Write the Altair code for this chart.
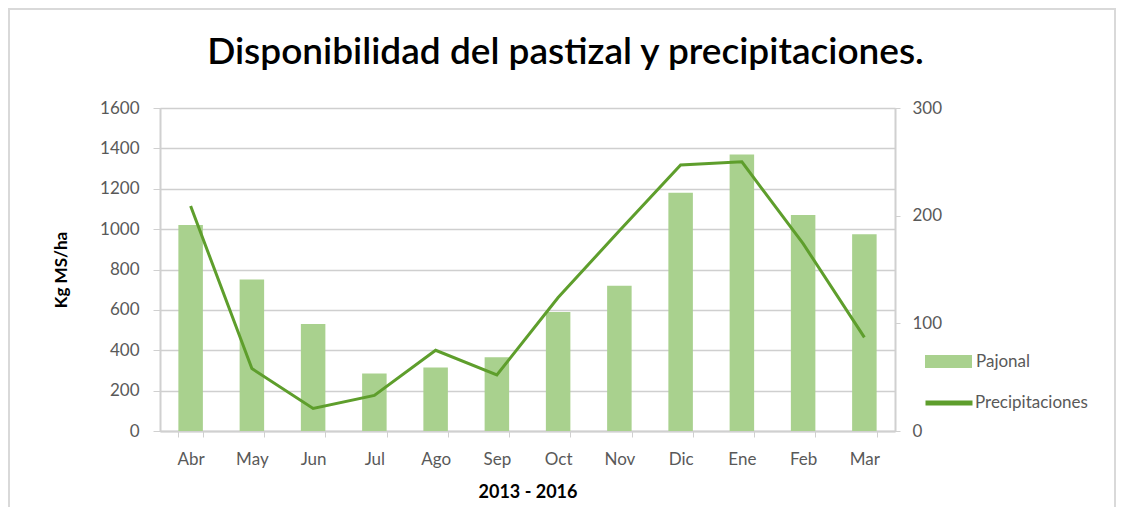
import altair as alt
import pandas as pd

months = ["Abr", "May", "Jun", "Jul", "Ago", "Sep", "Oct", "Nov", "Dic", "Ene", "Feb", "Mar"]
pajonal = [1020, 750, 530, 285, 315, 365, 590, 720, 1180, 1370, 1070, 975]
precip = [209, 58, 21, 33, 75, 52, 124, 186, 247, 250, 174, 87]

df = pd.DataFrame({"mes": months, "Pajonal": pajonal, "Precipitaciones": precip,
                   "s1": ["Pajonal"] * 12, "s2": ["Precipitaciones"] * 12})

FONT = "Lato"
GREY = "#595959"
BAR = "#a9d18e"
LINE = "#5e9e2c"
LBL = 17

x_enc = alt.X("mes:N", sort=months,
              scale=alt.Scale(paddingInner=0.6, paddingOuter=0.3),
              axis=alt.Axis(title="2013 - 2016", labelAngle=0, tickBand="extent",
                            labelFontSize=LBL, labelColor=GREY, labelFont=FONT,
                            labelPadding=14, tickSize=6, tickColor="#d0d0d0",
                            domainColor="#d0d0d0", domainWidth=2,
                            titleFont=FONT, titleFontSize=18, titleFontWeight="bold",
                            titleColor="#000000", titlePadding=16))

bars = alt.Chart(df).mark_bar(color=BAR).encode(
    x=x_enc,
    y=alt.Y("Pajonal:Q", scale=alt.Scale(domain=[0, 1600]),
            axis=alt.Axis(title="Kg MS/ha", values=list(range(0, 1601, 200)), format="d",
                          labelFontSize=LBL, labelColor=GREY, labelFont=FONT,
                          labelPadding=14, tickSize=7, tickColor="#d0d0d0",
                          domainColor="#d0d0d0", domainWidth=2,
                          gridColor="#cfcfcf", gridWidth=1.5,
                          titleFont=FONT, titleFontSize=17, titleFontWeight="bold",
                          titleColor="#000000", titlePadding=29)),
    fill=alt.Fill("s1:N", scale=alt.Scale(domain=["Pajonal"], range=[BAR]),
                  legend=alt.Legend(title=None, orient="none", legendX=765, legendY=230,
                                    symbolType="M-1,-0.277H1V0.277H-1Z", symbolSize=2209,
                                    symbolStrokeWidth=0, labelFontSize=LBL, labelColor=GREY,
                                    labelFont=FONT, labelOffset=4, padding=0)),
)

line = alt.Chart(df).mark_line(color=LINE, strokeWidth=3).encode(
    x=alt.X("mes:N", sort=months),
    y=alt.Y("Precipitaciones:Q", scale=alt.Scale(domain=[0, 300]),
            axis=alt.Axis(title=None, orient="right", values=[0, 100, 200, 300], grid=False,
                          labelFontSize=LBL, labelColor=GREY, labelFont=FONT,
                          labelPadding=12, tickSize=5, tickColor="#d0d0d0",
                          domainColor="#d0d0d0", domainWidth=2)),
    stroke=alt.Stroke("s2:N", scale=alt.Scale(domain=["Precipitaciones"], range=[LINE]),
                      legend=alt.Legend(title=None, orient="none", legendX=763, legendY=269,
                                        symbolType="stroke", symbolSize=2209,
                                        symbolStrokeWidth=5, labelFontSize=LBL, labelColor=GREY,
                                        labelFont=FONT, labelOffset=0, padding=0)),
)

border = alt.Chart(alt.Data(values=[{}])).mark_rect(
    fillOpacity=0, stroke="#d9d9d9", strokeWidth=2
).encode(x=alt.value(-151), x2=alt.value(955), y=alt.value(-99), y2=alt.value(420))

chart = alt.layer(border, bars, line).resolve_scale(
    y="independent", fill="independent", stroke="independent"
).properties(
    width=735, height=323,
    title=alt.TitleParams("Disponibilidad del pastizal y precipitaciones.",
                          font=FONT, fontSize=37, fontWeight=600, color="#000000",
                          anchor="middle", dx=38, dy=64, offset=0),
    autosize=alt.AutoSizeParams(type="none"),
    padding={"left": 152, "top": 100, "right": 222, "bottom": 76},
).configure_view(stroke=None).configure(background="white")

chart.save("out.html", embed_options={"renderer": "svg", "actions": False})
